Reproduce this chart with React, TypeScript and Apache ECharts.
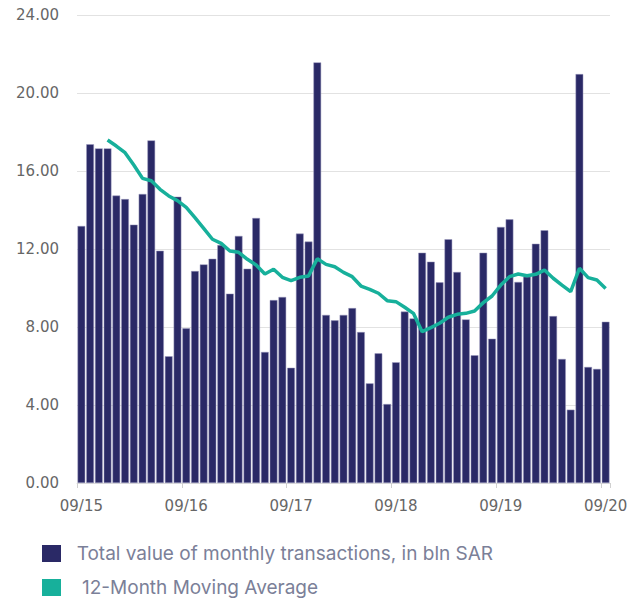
import React, { useEffect, useRef } from "react";
import * as echarts from "echarts";

const months: string[] = [];
for (let i = 0; i <= 60; i++) {
  const m = ((8 + i) % 12) + 1;
  const y = 15 + Math.floor((8 + i) / 12);
  months.push(String(m).padStart(2, "0") + "/" + String(y));
}

const monthlyValues = [
  13.18, 17.37, 17.16, 17.16, 14.74, 14.56, 13.25, 14.82, 17.57, 11.91, 6.5, 14.68,
  7.93, 10.87, 11.21, 11.5, 12.2, 9.71, 12.67, 10.99, 13.59, 6.72, 9.38, 9.54,
  5.91, 12.79, 12.38, 21.57, 8.62, 8.34, 8.62, 8.97, 7.74, 5.11, 6.65, 4.05,
  6.19, 8.79, 8.44, 11.81, 11.35, 10.29, 12.5, 10.82, 8.39, 6.55, 11.81, 7.4,
  13.13, 13.52, 10.31, 10.58, 12.27, 12.96, 8.56, 6.36, 3.76, 20.97, 5.95, 5.85,
  8.27,
];

const movingAverage = [
  null, null, null, 17.59, 17.28, 16.94, 16.31, 15.62, 15.5, 15.06, 14.72, 14.48,
  14.14, 13.61, 13.06, 12.5, 12.29, 11.9, 11.83, 11.47, 11.18, 10.72, 10.96, 10.55,
  10.38, 10.55, 10.62, 11.5, 11.21, 11.09, 10.8, 10.58, 10.1, 9.93, 9.73, 9.35,
  9.3, 9.01, 8.7, 7.76, 7.97, 8.19, 8.5, 8.65, 8.7, 8.82, 9.25, 9.59,
  10.15, 10.58, 10.72, 10.63, 10.7, 10.92, 10.5, 10.15, 9.81, 11.01, 10.53, 10.41,
  9.98,
];

const seriesNames = ["Total value of monthly transactions, in bln SAR", "12-Month Moving Average"];

const legendText = { fontFamily: "Inter", fontSize: 19, color: "#7b8098", lineHeight: 19 };

export default function App() {
  const ref = useRef<HTMLDivElement>(null);
  useEffect(() => {
    if (!ref.current) return;
    const chart = echarts.init(ref.current, null, { renderer: "svg" });
    chart.setOption({
      animation: false,
      backgroundColor: "#ffffff",
      grid: { left: 77, right: 34, top: 15, bottom: 115 },
      legend: [
        {
          left: 42,
          top: 544,
          padding: 0,
          itemWidth: 19,
          itemHeight: 17,
          itemGap: 10,
          icon: "rect",
          textStyle: { ...legendText },
          formatter: (name: string) => "  " + name,
          data: [{ name: seriesNames[0], itemStyle: { color: "#2a2966", borderWidth: 0 } }],
        },
        {
          left: 42,
          top: 578,
          padding: 0,
          itemWidth: 19,
          itemHeight: 17,
          itemGap: 10,
          icon: "rect",
          textStyle: { ...legendText },
          formatter: (name: string) => "   " + name,
          data: [{ name: seriesNames[1], itemStyle: { color: "#17b09b" } }],
        },
      ],
      xAxis: {
        type: "category",
        data: months,
        boundaryGap: true,
        axisLine: { show: true, lineStyle: { color: "#dcdcdc" } },
        axisTick: { show: true, interval: 11, length: 5, lineStyle: { color: "#d0d0d0" } },
        axisLabel: {
          interval: 11,
          margin: 15,
          color: "#666666",
          fontFamily: "DejaVu Sans",
          fontSize: 15,
        },
      },
      yAxis: {
        type: "value",
        min: 0,
        max: 24,
        interval: 4,
        axisLine: { show: false },
        axisTick: { show: false },
        splitLine: { lineStyle: { color: "#e2e2e2", width: 1 } },
        axisLabel: {
          margin: 18,
          color: "#666666",
          fontFamily: "DejaVu Sans",
          fontSize: 15,
          formatter: (v: number) => v.toFixed(2),
        },
      },
      series: [
        {
          name: seriesNames[0],
          type: "bar",
          data: monthlyValues,
          barCategoryGap: "12%",
          itemStyle: { color: "#2a2966", borderColor: "#9c9bbf", borderWidth: 0.5 },
        },
        {
          name: seriesNames[1],
          type: "line",
          data: movingAverage,
          symbol: "none",
          smooth: false,
          lineStyle: { color: "#17b09b", width: 3.5 },
          itemStyle: { color: "#17b09b" },
        },
      ],
    });
    return () => chart.dispose();
  }, []);
  return (
    <div
      ref={ref}
      style={{ position: "fixed", left: 0, top: 0, width: 644, height: 598, background: "#fff" }}
    />
  );
}
